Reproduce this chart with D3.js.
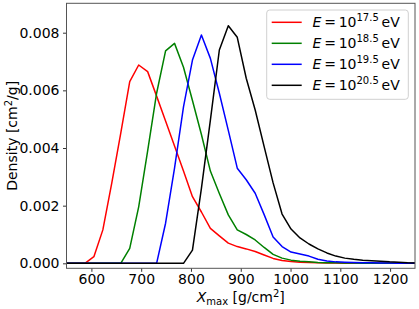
<!DOCTYPE html>
<html>
<head>
<meta charset="utf-8">
<script src="https://cdn.jsdelivr.net/npm/d3@7"></script>
<style>
  body { margin: 0; background: #fff; }
  svg { font-family: "DejaVu Sans", sans-serif; }
</style>
</head>
<body>
<svg id="chart" width="419" height="309"></svg>
<script>
// Xmax bin centres [g/cm2]
const xmax = [551, 569, 587, 605, 623, 641, 659, 677, 695, 713, 731, 749, 767, 785, 803, 821, 839, 857,
  875, 893, 911, 929, 947, 965, 983, 1001, 1019, 1037, 1055, 1073, 1091, 1109, 1127, 1145, 1163, 1181,
  1199, 1217, 1235, 1253];

// density per energy
const e175 = [0, 0, 0, 0.00023, 0.00116, 0.00279, 0.00452, 0.0063, 0.00688, 0.00665, 0.0058, 0.00494,
  0.00407, 0.0032, 0.00231, 0.00178, 0.00121, 0.00095, 0.0007, 0.00058, 0.0005, 0.00041, 0.00029,
  0.00017, 0.0001, 0.00006, 0.00004, 0.00003, 0.00002, 0.00001, 0.00001, 0, 0, 0, 0, 0, 0, 0, 0, 0];
const e185 = [0, 0, 0, 0, 0, 0, 0, 0.00052, 0.00196, 0.0039, 0.0059, 0.00737, 0.00763, 0.0068, 0.00565,
  0.00447, 0.0032, 0.00242, 0.00168, 0.00116, 0.001, 0.00081, 0.00055, 0.00031, 0.00018, 0.00011,
  0.00007, 0.00005, 0.00003, 0.00002, 0.00002, 0.00001, 0.00001, 0, 0, 0, 0, 0, 0, 0];
const e195 = [0, 0, 0, 0, 0, 0, 0, 0, 0, 0, 0, 0.00139, 0.0033, 0.00543, 0.00705, 0.00792, 0.00711,
  0.0059, 0.00461, 0.0033, 0.0029, 0.00243, 0.00169, 0.00091, 0.00058, 0.00039, 0.00032, 0.00025,
  0.00014, 0.00008, 0.00005, 0.00004, 0.00003, 0.00002, 0.00002, 0.00001, 0.00001, 0, 0, 0];
const e205 = [0, 0, 0, 0, 0, 0, 0, 0, 0, 0, 0, 0, 0, 0, 0.00046, 0.0026, 0.00497, 0.0074, 0.00824,
  0.00784, 0.00642, 0.00532, 0.00405, 0.00279, 0.00171, 0.00119, 0.00088, 0.00067, 0.0005, 0.00036,
  0.00025, 0.00018, 0.00014, 0.00011, 0.00009, 0.00007, 0.00005, 0.00004, 0.00002, 0.00001];

const seriesNames = ["17.5", "18.5", "19.5", "20.5"];
const seriesColors = ["red", "green", "blue", "black"];
const xTicks = [600, 700, 800, 900, 1000, 1100, 1200];
const yTicks = [0, 0.002, 0.004, 0.006, 0.008];

const margin = { left: 66.5, right: 415, top: 3.3, bottom: 268.3 };
const fs = 14;

const svg = d3.select("#chart");

const x = d3.scaleLinear().domain([550, 1250]).range([margin.left, margin.right]);
const y = d3.scaleLinear().domain([-0.000173, 0.00902]).range([margin.bottom, margin.top]);

// clip
svg.append("clipPath").attr("id", "clip")
  .append("rect")
  .attr("x", margin.left).attr("y", margin.top)
  .attr("width", margin.right - margin.left).attr("height", margin.bottom - margin.top);

const plot = svg.append("g").attr("clip-path", "url(#clip)");

const line = d3.line().x((d) => x(d[0])).y((d) => y(d[1]));

[e175, e185, e195, e205].forEach((vals, i) => {
  plot.append("path")
    .datum(xmax.map((v, j) => [v, vals[j]]))
    .attr("fill", "none")
    .attr("stroke", seriesColors[i])
    .attr("stroke-width", 1.5)
    .attr("stroke-linejoin", "round")
    .attr("d", line);
});

// axes
const xAxis = svg.append("g")
  .attr("transform", `translate(0,${margin.bottom})`)
  .call(d3.axisBottom(x).tickValues(xTicks).tickSize(3.5).tickPadding(2.5).tickFormat(d3.format("d")));
const yAxis = svg.append("g")
  .attr("transform", `translate(${margin.left},0)`)
  .call(d3.axisLeft(y).tickValues(yTicks).tickSize(3.5).tickPadding(3.5).tickFormat(d3.format(".3f")));

[xAxis, yAxis].forEach((g) => {
  g.select(".domain").remove();
  g.selectAll(".tick line").attr("stroke", "#000").attr("stroke-width", 0.8);
  g.selectAll(".tick text").attr("font-size", fs).attr("fill", "#000")
    .attr("font-family", "DejaVu Sans, sans-serif");
});

// frame
svg.append("rect")
  .attr("x", margin.left).attr("y", margin.top)
  .attr("width", margin.right - margin.left).attr("height", margin.bottom - margin.top)
  .attr("fill", "none").attr("stroke", "#555").attr("stroke-width", 1);

// x label
const xl = svg.append("text")
  .attr("x", (margin.left + margin.right) / 2).attr("y", 301.5)
  .attr("text-anchor", "middle").attr("font-size", fs);
xl.append("tspan").attr("font-style", "italic").text("X");
xl.append("tspan").attr("font-size", 10).attr("dy", 3).text("max");
xl.append("tspan").attr("dy", -3).text(" [g/cm");
xl.append("tspan").attr("font-size", 10).attr("dy", -5).text("2");
xl.append("tspan").attr("dy", 5).text("]");

// y label
const yl = svg.append("text")
  .attr("transform", `translate(17,${(margin.top + margin.bottom) / 2}) rotate(-90)`)
  .attr("text-anchor", "middle").attr("font-size", fs);
yl.append("tspan").text("Density [cm");
yl.append("tspan").attr("font-size", 10).attr("dy", -5.5).text("2");
yl.append("tspan").attr("dy", 5.5).text("/g]");

// legend
const legend = svg.append("g");
legend.append("rect")
  .attr("x", 266.7).attr("y", 10).attr("width", 141.6).attr("height", 89.3)
  .attr("rx", 3).attr("fill", "#fff").attr("fill-opacity", 0.8)
  .attr("stroke", "#d0d0d0").attr("stroke-width", 1);

seriesNames.forEach((name, i) => {
  const ly = 22.3 + i * 21;
  legend.append("line")
    .attr("x1", 271.7).attr("x2", 301.7).attr("y1", ly).attr("y2", ly)
    .attr("stroke", seriesColors[i]).attr("stroke-width", 1.5);
  const t = legend.append("text")
    .attr("x", 312.5).attr("y", ly + 5).attr("font-size", fs);
  t.append("tspan").attr("font-style", "italic").text("E");
  t.append("tspan").text("\u2009=\u200910");
  t.append("tspan").attr("font-size", 10).attr("dy", -6).text(name);
  t.append("tspan").attr("dy", 6).text("\u2009eV");
});
</script>
</body>
</html>
